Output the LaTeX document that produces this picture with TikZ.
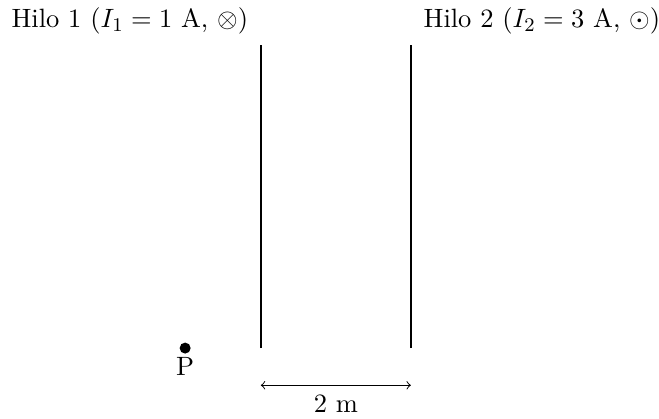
\documentclass[11pt,tikz,border=0pt]{standalone}
\usetikzlibrary{positioning}
\begin{document}
\begin{tikzpicture}[>=to,scale=1]
	  \useasboundingbox (-3.79,-1.017) rectangle (5.785,5.058);
	  % hilos
	  \coordinate (h1a) at (0,0);
	  \coordinate (h1b) at (0,4.4);
	  \coordinate (h2a) at (2.18,0);
	  \coordinate (h2b) at (2.18,4.4);
	  \draw[thick] (h1a) -- (h1b);
	  \draw[thick] (h2a) -- (h2b);
	  \node[above left=0.03cm and 0.05cm of h1b] (l1) {Hilo 1 ($I_1 = 1$ A, $\otimes$)};
	  \node[above right=0.03cm and 0.05cm of h2b] (l2) {Hilo 2 ($I_2 = 3$ A, $\odot$)};
	  % punto P
	  \node[circle,fill,inner sep=0pt,minimum size=0.16cm,label={[inner sep=1pt]below:P}] (p) at (-1.1,0) {};
	  % distancia
	  \coordinate (d1) at (0,-0.54);
	  \coordinate (d2) at (2.18,-0.54);
	  \draw[<->] (d1) -- (d2);
	  \node[below=0pt of d1, xshift=1.09cm] (d) {2 m};
	\end{tikzpicture}
\end{document}
